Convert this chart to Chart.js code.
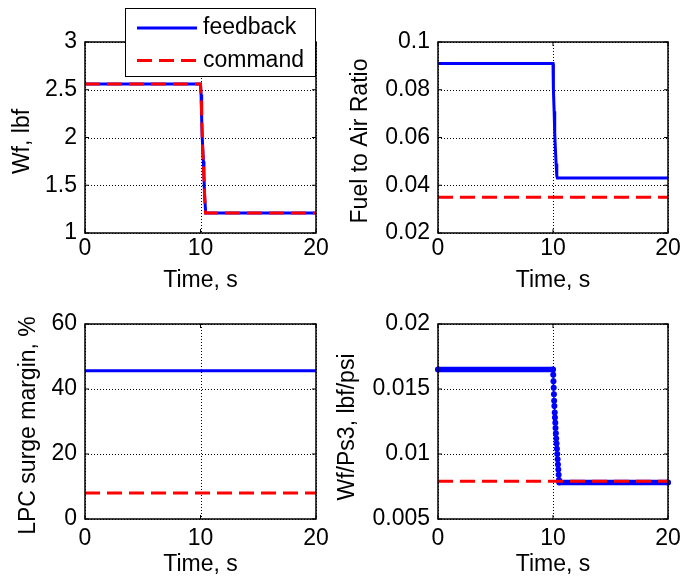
<!DOCTYPE html>
<html>
<head>
<meta charset="utf-8">
<script src="https://cdn.jsdelivr.net/npm/chart.js@4"></script>
<style>
  html, body { margin: 0; padding: 0; background: #fff; }
  #wrap { position: relative; width: 687px; height: 581px; overflow: hidden; background: #fff; }
  #wrap canvas { position: absolute; left: 0; top: 0; }
</style>
</head>
<body>
<div id="wrap">
  <canvas id="farChart" width="687" height="581"></canvas>
  <canvas id="smChart" width="687" height="581"></canvas>
  <canvas id="ratioChart" width="687" height="581"></canvas>
  <canvas id="wfChart" width="687" height="581"></canvas>
</div>
<script>
// ---- shared time axis ----
const timeTicks = ['0', '10', '20'];

// ---- fuel flow Wf, lbf ----
const wfTicks = ['1', '1.5', '2', '2.5', '3'];
const wfFeedbackTime = [0, 10.0, 10.05, 10.1, 10.15, 10.25, 10.3, 10.35, 10.45, 20];
const wfFeedback     = [2.56, 2.56, 2.45, 2.2, 2.0, 1.75, 1.6, 1.4, 1.21, 1.21];
const wfCommandTime  = [0, 10.0, 10.08, 10.15, 10.25, 10.35, 10.43, 20];
const wfCommand      = [2.56, 2.56, 2.35, 2.0, 1.7, 1.42, 1.21, 1.21];

// ---- fuel to air ratio ----
const farTicks = ['0.02', '0.04', '0.06', '0.08', '0.1'];
const farFeedbackTime = [0, 10.0, 10.02, 10.05, 10.1, 10.15, 10.2, 10.27, 10.33, 10.38, 20];
const farFeedback     = [0.091, 0.091, 0.086, 0.080, 0.071, 0.062, 0.056, 0.049, 0.044, 0.043, 0.043];
const farCommandTime  = [0, 20];
const farCommand      = [0.035, 0.035];

// ---- LPC surge margin, % ----
const smTicks = ['0', '20', '40', '60'];
const smFeedbackTime = [0, 20];
const smFeedback     = [45.6, 45.6];
const smCommandTime  = [0, 20];
const smCommand      = [8, 8];

// ---- Wf/Ps3, lbf/psi ----
const ratioTicks = ['0.005', '0.01', '0.015', '0.02'];
const ratioFeedbackTime = [0, 10.0, 10.02, 10.04, 10.06, 10.08, 10.10, 10.12, 10.15, 10.17, 10.20, 10.22,
                           10.25, 10.28, 10.31, 10.34, 10.37, 10.40, 10.43, 10.46, 10.49, 10.52, 10.55, 20];
const ratioFeedback     = [0.0165, 0.0165, 0.0161, 0.0156, 0.0151, 0.0146, 0.0141, 0.0137, 0.0132, 0.0128, 0.0124, 0.0120,
                           0.0116, 0.0112, 0.0108, 0.0104, 0.0100, 0.0096, 0.0092, 0.0088, 0.0084, 0.0080, 0.0078, 0.0078];
const ratioCommandTime  = [0, 20];
const ratioCommand      = [0.0079, 0.0079];

const seriesLabels = ['feedback', 'command'];

// ---- styling ----
const FONT = { family: "'Liberation Sans', Arial, Helvetica, sans-serif", size: 23 };
const LINE_H = FONT.size * 1.2;
const BLUE = '#0000ff';
const RED = '#ff0000';
const DASH = [15, 7];

Chart.defaults.font.family = FONT.family;
Chart.defaults.font.size = FONT.size;
Chart.defaults.color = '#000';

function points(t, v) {
  return t.map((ti, i) => ({ x: ti, y: v[i] }));
}

// dotted grid, box outline with inward tick marks, rotated y label
const axesFrame = {
  id: 'axesFrame',
  beforeDatasetsDraw(chart) {
    const { ctx, chartArea: a, scales: { x, y } } = chart;
    ctx.save();
    ctx.strokeStyle = '#000';
    ctx.lineWidth = 1;
    ctx.setLineDash([1, 2]);
    ctx.beginPath();
    x.ticks.forEach(t => {
      const px = Math.round(x.getPixelForValue(t.value)) + 0.5;
      ctx.moveTo(px, a.top); ctx.lineTo(px, a.bottom);
    });
    y.ticks.forEach(t => {
      const py = Math.round(y.getPixelForValue(t.value)) + 0.5;
      ctx.moveTo(a.left, py); ctx.lineTo(a.right, py);
    });
    ctx.stroke();
    ctx.restore();
  },
  afterDatasetsDraw(chart) {
    const { ctx, chartArea: a, scales: { x, y } } = chart;
    ctx.save();
    ctx.strokeStyle = '#000';
    ctx.setLineDash([]);
    ctx.lineWidth = 1.5;
    ctx.strokeRect(a.left, a.top, a.right - a.left, a.bottom - a.top);
    const len = 4;
    ctx.lineWidth = 1;
    ctx.beginPath();
    x.ticks.forEach(t => {
      const px = x.getPixelForValue(t.value);
      ctx.moveTo(px, a.bottom); ctx.lineTo(px, a.bottom - len);
      ctx.moveTo(px, a.top); ctx.lineTo(px, a.top + len);
    });
    y.ticks.forEach(t => {
      const py = y.getPixelForValue(t.value);
      ctx.moveTo(a.left, py); ctx.lineTo(a.left + len, py);
      ctx.moveTo(a.right, py); ctx.lineTo(a.right - len, py);
    });
    ctx.stroke();
    ctx.restore();
  },
  afterDraw(chart, args, opts) {
    if (!opts.yTitle) return;
    const { ctx } = chart;
    ctx.save();
    ctx.translate(opts.yTitleX, opts.yTitleY);
    ctx.rotate(-Math.PI / 2);
    ctx.font = `${FONT.size}px ${FONT.family}`;
    ctx.fillStyle = '#000';
    ctx.textAlign = 'center';
    ctx.textBaseline = 'middle';
    ctx.fillText(opts.yTitle, 0, 0);
    ctx.restore();
  }
};

// boxed legend drawn over the upper-left axes
const boxedLegend = {
  id: 'boxedLegend',
  afterDraw(chart, args, opts) {
    const { ctx } = chart;
    const b = opts.box;
    ctx.save();
    ctx.fillStyle = '#fff';
    ctx.fillRect(b.x, b.y, b.w, b.h);
    ctx.strokeStyle = '#000';
    ctx.lineWidth = 1;
    ctx.strokeRect(b.x + 0.5, b.y + 0.5, b.w, b.h);
    seriesLabels.forEach((label, row) => {
      const ds = chart.data.datasets.find(d => d.label === label);
      const yy = opts.rows[row];
      ctx.beginPath();
      ctx.strokeStyle = ds.borderColor;
      ctx.lineWidth = 3;
      ctx.setLineDash(ds.borderDash || []);
      ctx.moveTo(opts.lineX0, yy);
      ctx.lineTo(opts.lineX1, yy);
      ctx.stroke();
      ctx.setLineDash([]);
      ctx.fillStyle = '#000';
      ctx.font = `${FONT.size}px ${FONT.family}`;
      ctx.textAlign = 'left';
      ctx.textBaseline = 'middle';
      ctx.fillText(ds.label, opts.textX, yy);
    });
    ctx.restore();
  }
};

function feedbackSet(t, v, extra) {
  return Object.assign({
    label: seriesLabels[0], data: points(t, v),
    borderColor: BLUE, backgroundColor: BLUE, borderWidth: 3,
    pointRadius: 0, tension: 0, order: 1
  }, extra || {});
}
function commandSet(t, v) {
  return {
    label: seriesLabels[1], data: points(t, v),
    borderColor: RED, backgroundColor: RED, borderWidth: 3, borderDash: DASH,
    pointRadius: 0, tension: 0, order: 0
  };
}

function makeChart(id, box, yTicks, yTitle, datasets, extraPlugins, extraOpts) {
  const W = 687, H = 581;
  const xScaleBottom = box.xTitleY + LINE_H / 2;
  return new Chart(document.getElementById(id), {
    type: 'line',
    data: { datasets },
    options: {
      responsive: false,
      animation: false,
      events: [],
      layout: { padding: { left: 0, top: box.T, right: W - box.R, bottom: H - xScaleBottom } },
      scales: {
        x: {
          type: 'linear', min: 0, max: 20,
          afterBuildTicks: s => { s.ticks = timeTicks.map(v => ({ value: +v })); },
          afterFit: s => { s.height = xScaleBottom - box.B; },
          ticks: { autoSkip: false, maxRotation: 0, padding: box.xTickPad, color: '#000',
                   callback: (v, i) => timeTicks[i] },
          grid: { display: false, drawTicks: false },
          border: { display: false },
          title: { display: true, text: 'Time, s', color: '#000', padding: 0 }
        },
        y: {
          type: 'linear', min: +yTicks[0], max: +yTicks[yTicks.length - 1],
          afterBuildTicks: s => { s.ticks = yTicks.map(v => ({ value: +v })); },
          afterFit: s => { s.width = box.L; },
          ticks: { autoSkip: false, padding: 8, color: '#000', callback: (v, i) => yTicks[i] },
          grid: { display: false, drawTicks: false },
          border: { display: false }
        }
      },
      plugins: Object.assign({
        legend: { display: false },
        tooltip: { enabled: false },
        axesFrame: { yTitle, yTitleX: box.yTitleX, yTitleY: box.yTitleY }
      }, extraOpts || {})
    },
    plugins: [axesFrame].concat(extraPlugins || [])
  });
}

// axes placement on the page
const boxes = {
  wf:    { L: 85,  T: 42,  R: 316, B: 233, yTitleX: 22.5, yTitleY: 141.5, xTitleY: 281, xTickPad: 2 },
  far:   { L: 438, T: 42,  R: 668, B: 233, yTitleX: 361,  yTitleY: 141,   xTitleY: 281, xTickPad: 2 },
  sm:    { L: 85,  T: 324, R: 316, B: 519, yTitleX: 29,   yTitleY: 425.5, xTitleY: 565, xTickPad: 6 },
  ratio: { L: 438, T: 324, R: 668, B: 519, yTitleX: 347.5, yTitleY: 427,  xTitleY: 565, xTickPad: 6 }
};

makeChart('farChart', boxes.far, farTicks, 'Fuel to Air Ratio', [
  feedbackSet(farFeedbackTime, farFeedback),
  commandSet(farCommandTime, farCommand)
]);

makeChart('smChart', boxes.sm, smTicks, 'LPC surge margin, %', [
  feedbackSet(smFeedbackTime, smFeedback),
  commandSet(smCommandTime, smCommand)
]);

// sampled signal: dense samples on the flats merge into a thick band, the transient shows single dots
makeChart('ratioChart', boxes.ratio, ratioTicks, 'Wf/Ps3, lbf/psi', [
  feedbackSet(ratioFeedbackTime, ratioFeedback, {
    borderWidth: 5, borderCapStyle: 'round', borderJoinStyle: 'round',
    segment: { borderWidth: c => (c.p0.parsed.y === c.p1.parsed.y ? 5.5 : 1.5) },
    pointRadius: 3, pointBorderWidth: 0, pointBackgroundColor: BLUE, clip: false
  }),
  commandSet(ratioCommandTime, ratioCommand)
]);

makeChart('wfChart', boxes.wf, wfTicks, 'Wf, lbf', [
  feedbackSet(wfFeedbackTime, wfFeedback),
  commandSet(wfCommandTime, wfCommand)
], [boxedLegend], {
  boxedLegend: { box: { x: 125, y: 8, w: 190, h: 68 }, rows: [28, 60.5], lineX0: 137, lineX1: 197, textX: 203 }
});
</script>
</body>
</html>
